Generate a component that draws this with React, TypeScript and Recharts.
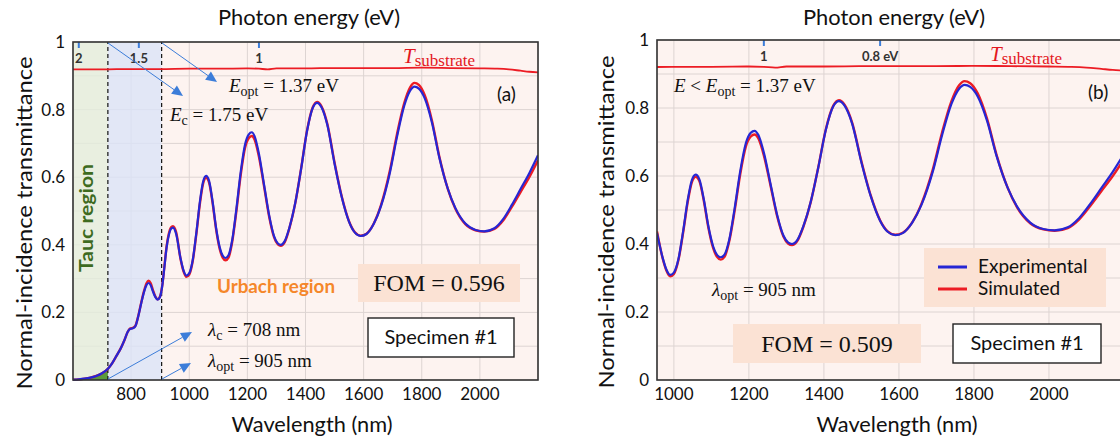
import React from 'react'
import {
  ComposedChart,
  Line,
  Area,
  XAxis,
  YAxis,
  CartesianGrid,
  ReferenceArea,
  ReferenceLine,
} from 'recharts'

// wavelength (nm) and normal-incidence transmittance
const wavelength = [
  600, 620, 640, 660, 680, 700, 720, 735, 750, 765, 778, 788, 796, 806, 815, 825, 835, 845, 853, 860,
  867, 875, 883, 891, 899, 907, 915, 922, 930, 937, 944, 955, 970, 980, 990, 1000, 1012, 1025, 1037, 1048,
  1058, 1068, 1080, 1092, 1105, 1115, 1125, 1135, 1148, 1162, 1177, 1192, 1205, 1215, 1225, 1240, 1258, 1275, 1292, 1305,
  1315, 1328, 1345, 1365, 1385, 1405, 1425, 1440, 1455, 1475, 1500, 1525, 1550, 1570, 1590, 1610, 1635, 1660, 1690, 1715,
  1740, 1760, 1775, 1790, 1810, 1835, 1860, 1890, 1915, 1950, 1985, 2015, 2050, 2080, 2110, 2140, 2170, 2200,
]

const experimental = [
  0.001, 0.002, 0.004, 0.007, 0.012, 0.02, 0.033, 0.05, 0.072, 0.095, 0.12, 0.142, 0.151, 0.153, 0.16, 0.19, 0.228, 0.262, 0.281, 0.287,
  0.281, 0.262, 0.246, 0.238, 0.245, 0.278, 0.338, 0.392, 0.43, 0.447, 0.451, 0.432, 0.36, 0.325, 0.309, 0.316, 0.355, 0.44, 0.53, 0.588,
  0.604, 0.59, 0.53, 0.452, 0.392, 0.368, 0.361, 0.369, 0.415, 0.505, 0.615, 0.697, 0.727, 0.733, 0.721, 0.668, 0.575, 0.487, 0.425, 0.404,
  0.4, 0.41, 0.452, 0.525, 0.625, 0.735, 0.805, 0.82, 0.807, 0.755, 0.64, 0.54, 0.468, 0.436, 0.426, 0.432, 0.462, 0.515, 0.612, 0.72,
  0.812, 0.856, 0.868, 0.862, 0.834, 0.762, 0.66, 0.565, 0.51, 0.463, 0.444, 0.44, 0.449, 0.476, 0.518, 0.565, 0.612, 0.665,
]

const simulated = [
  0.001, 0.002, 0.004, 0.007, 0.012, 0.02, 0.033, 0.05, 0.072, 0.095, 0.12, 0.142, 0.152, 0.154, 0.161, 0.191, 0.23, 0.265, 0.286, 0.294,
  0.287, 0.266, 0.248, 0.239, 0.246, 0.279, 0.34, 0.395, 0.434, 0.451, 0.455, 0.437, 0.358, 0.322, 0.305, 0.312, 0.352, 0.436, 0.524, 0.582,
  0.598, 0.585, 0.526, 0.448, 0.387, 0.362, 0.354, 0.362, 0.41, 0.498, 0.606, 0.687, 0.716, 0.722, 0.711, 0.66, 0.57, 0.483, 0.422, 0.401,
  0.397, 0.407, 0.45, 0.524, 0.626, 0.737, 0.807, 0.823, 0.81, 0.758, 0.643, 0.542, 0.469, 0.437, 0.427, 0.433, 0.463, 0.518, 0.618, 0.728,
  0.82, 0.866, 0.879, 0.873, 0.843, 0.768, 0.663, 0.565, 0.508, 0.461, 0.443, 0.439, 0.447, 0.472, 0.512, 0.556, 0.6, 0.65,
]

const substrateWavelength = [
  600, 700, 800, 900, 1000, 1100, 1200, 1240, 1270, 1300, 1400, 1500, 1600, 1700, 1800, 1900, 2000, 2060, 2100, 2140, 2170, 2200,
]
const substrateT = [
  0.919, 0.919, 0.92, 0.92, 0.921, 0.921, 0.922, 0.921, 0.919, 0.922, 0.922, 0.923, 0.923, 0.923, 0.924, 0.923, 0.922, 0.921, 0.919, 0.915, 0.912, 0.91,
]

const yTicks = [0, 0.1, 0.2, 0.3, 0.4, 0.5, 0.6, 0.7, 0.8, 0.9, 1]
const xTicksA = [800, 1000, 1200, 1400, 1600, 1800, 2000]
const xTicksB = [1000, 1200, 1400, 1600, 1800, 2000]
const energyA = [2, 1.5, 1]
const energyLabelsA = ['2', '1.5', '1']
const energyB = [1, 0.8]
const energyLabelsB = ['1', '0.8 eV']

const lambdaC = 720 // where the boundary is drawn
const lambdaOpt = 905

const rows = wavelength.map((w, i) => ({ w, exp: experimental[i], sim: simulated[i] }))
const substrateRows = substrateWavelength.map((w, i) => ({ w, t: substrateT[i] }))

const SANS = 'Lato, "Open Sans", sans-serif'
const SERIF = '"Liberation Serif", "DejaVu Serif", serif'
const BLUE = '#2626d4'
const RED = '#ec1c24'
const ARROW = '#3c7dd9'

// blue photon-energy tick hanging from the top frame, label below it
function EnergyMark({ viewBox, label }: any) {
  if (!viewBox) return null
  const { x, y } = viewBox
  return (
    <g>
      <line x1={x} x2={x} y1={y} y2={y + 6} stroke={ARROW} strokeWidth={2} />
      <text x={x} y={y + 21} textAnchor="middle" fontSize={13} fontWeight="bold" fill="#333" fontFamily={SANS}>
        {label}
      </text>
    </g>
  )
}

interface PanelProps {
  data: typeof rows
  domain: [number, number]
  ticks: number[]
  energy: number[]
  energyLabels: string[]
  regions: boolean
  width: number
  margin: { top: number; right: number; bottom: number; left: number }
}

function Panel({ data, domain, ticks, energy, energyLabels, regions, width, margin }: PanelProps) {
  const tickStyle = { fontSize: 17, fill: '#111', fontFamily: SANS }
  return (
    <ComposedChart width={width} height={443} data={data} margin={margin}>
      <CartesianGrid fill="#fdf3f0" stroke="#ddd4d2" strokeWidth={1} />
      {regions && (
        <ReferenceArea x1={600} x2={lambdaC} y1={0} y2={1} fill="#e3eedc" fillOpacity={0.8} stroke="none" />
      )}
      {regions && (
        <ReferenceArea x1={lambdaC} x2={lambdaOpt} y1={0} y2={1} fill="#dbe3f8" fillOpacity={0.8} stroke="none" />
      )}
      {regions && <ReferenceLine x={lambdaC} stroke="#111" strokeDasharray="4 3" strokeWidth={1.2} />}
      {regions && <ReferenceLine x={lambdaOpt} stroke="#111" strokeDasharray="4 3" strokeWidth={1.2} />}
      {energy.map((e, i) => (
        <ReferenceLine
          key={e}
          x={1239.84 / e}
          stroke="none"
          label={<EnergyMark label={energyLabels[i]} />}
        />
      ))}
      <XAxis
        type="number"
        dataKey="w"
        domain={domain}
        allowDataOverflow
        ticks={ticks}
        height={30}
        tickSize={0}
        tickMargin={8}
        tickLine={false}
        axisLine={false}
        tick={tickStyle}
      />
      <YAxis
        type="number"
        domain={[0, 1]}
        ticks={yTicks}
        width={40}
        tickSize={0}
        tickMargin={8}
        tickLine={false}
        axisLine={false}
        tick={tickStyle}
        tickFormatter={(v: number, i: number) => (i % 2 === 0 ? String(v) : '')}
      />
      {regions && (
        <Area
          data={data.filter((r) => r.w <= lambdaC)}
          dataKey="exp"
          type="monotone"
          fill="#5b9a3c"
          fillOpacity={1}
          stroke="none"
          isAnimationActive={false}
        />
      )}
      <Line data={substrateRows} dataKey="t" type="monotone" stroke={RED} strokeWidth={1.8} dot={false} isAnimationActive={false} />
      <Line dataKey="sim" type="monotone" stroke={RED} strokeWidth={2.4} dot={false} isAnimationActive={false} />
      <Line dataKey="exp" type="monotone" stroke={BLUE} strokeWidth={2.2} dot={false} isAnimationActive={false} />
    </ComposedChart>
  )
}

function Arrow({ x1, y1, x2, y2 }: { x1: number; y1: number; x2: number; y2: number }) {
  const a = Math.atan2(y2 - y1, x2 - x1)
  const len = 11
  const half = 5
  const bx = x2 - len * Math.cos(a)
  const by = y2 - len * Math.sin(a)
  const p1 = `${bx + half * Math.sin(a)},${by - half * Math.cos(a)}`
  const p2 = `${bx - half * Math.sin(a)},${by + half * Math.cos(a)}`
  return (
    <g>
      <line x1={x1} y1={y1} x2={bx} y2={by} stroke={ARROW} strokeWidth={1} />
      <polygon points={`${x2},${y2} ${p1} ${p2}`} fill={ARROW} />
    </g>
  )
}

function Sub({ main, sub, italic = true, size = 19, subSize = 14 }: any) {
  return (
    <>
      <tspan fontStyle={italic ? 'italic' : 'normal'} fontSize={size}>{main}</tspan>
      <tspan fontSize={subSize} dy={4}>{sub}</tspan>
    </>
  )
}

function Overlay() {
  const txt = { fontFamily: SERIF, fill: '#111' }
  return (
    <svg width={1120} height={443} style={{ position: 'absolute', left: 0, top: 0, pointerEvents: 'none' }}>
      {/* frames */}
      <rect x={73} y={42} width={465} height={338} fill="none" stroke="#333" strokeWidth={1.6} />
      <rect x={657} y={40} width={467} height={340} fill="none" stroke="#333" strokeWidth={1.6} />

      {/* axis titles */}
      <text x={309} y={25} textAnchor="middle" fontSize={21} fontFamily={SANS} fill="#111" textLength={182} lengthAdjust="spacingAndGlyphs">
        Photon energy (eV)
      </text>
      <text x={312} y={432} textAnchor="middle" fontSize={21} fontFamily={SANS} fill="#111" textLength={161} lengthAdjust="spacingAndGlyphs">
        Wavelength (nm)
      </text>
      <text transform="translate(32,223) rotate(-90)" textAnchor="middle" fontSize={21} fontFamily={SANS} fill="#111" textLength={333} lengthAdjust="spacingAndGlyphs">
        Normal-incidence transmittance
      </text>
      <text x={894} y={25} textAnchor="middle" fontSize={21} fontFamily={SANS} fill="#111" textLength={182} lengthAdjust="spacingAndGlyphs">
        Photon energy (eV)
      </text>
      <text x={897} y={432} textAnchor="middle" fontSize={21} fontFamily={SANS} fill="#111" textLength={161} lengthAdjust="spacingAndGlyphs">
        Wavelength (nm)
      </text>
      <text transform="translate(614,222) rotate(-90)" textAnchor="middle" fontSize={21} fontFamily={SANS} fill="#111" textLength={333} lengthAdjust="spacingAndGlyphs">
        Normal-incidence transmittance
      </text>

      {/* panel (a) */}
      <text x={403} y={63} fontFamily={SERIF} fill="#e3171e">
        <tspan fontStyle="italic" fontSize={21}>T</tspan>
        <tspan fontSize={17} dy={3}>substrate</tspan>
      </text>
      <text x={497} y={101} fontSize={19} fontFamily={SANS} fill="#111">(a)</text>
      <text x={229} y={92} {...txt}>
        <Sub main="E" sub="opt" />
        <tspan dy={-4} fontSize={19}> = 1.37 eV</tspan>
      </text>
      <text x={170} y={121} {...txt}>
        <Sub main="E" sub="c" />
        <tspan dy={-4} fontSize={19}> = 1.75 eV</tspan>
      </text>
      <text x={208} y={336} {...txt}>
        <Sub main="λ" sub="c" />
        <tspan dy={-4} fontSize={19}> = 708 nm</tspan>
      </text>
      <text x={208} y={367} {...txt}>
        <Sub main="λ" sub="opt" />
        <tspan dy={-4} fontSize={19}> = 905 nm</tspan>
      </text>
      <Arrow x1={108} y1={43} x2={183} y2={96} />
      <Arrow x1={162} y1={43} x2={217} y2={82} />
      <Arrow x1={108} y1={379} x2={192} y2={332} />
      <Arrow x1={162} y1={379} x2={191} y2={363} />
      <text transform="translate(93,218) rotate(-90)" textAnchor="middle" fontSize={19} fontWeight="bold" fontFamily={SANS} fill="#3e6b1f" textLength={108} lengthAdjust="spacingAndGlyphs">
        Tauc region
      </text>
      <text x={217} y={293} fontSize={19} fontWeight="bold" fontFamily={SANS} fill="#f5872a" textLength={118} lengthAdjust="spacingAndGlyphs">Urbach region</text>
      <rect x={358} y={264} width={162} height={38} fill="#fbe2d4" />
      <text x={439} y={291} textAnchor="middle" fontSize={24} {...txt}>FOM = 0.596</text>
      <rect x={368} y={318} width={146} height={39} fill="#fff" stroke="#222" strokeWidth={1.4} />
      <text x={441} y={344} textAnchor="middle" fontSize={20} fontFamily={SANS} fill="#111">Specimen #1</text>

      {/* panel (b) */}
      <text x={990} y={61} fontFamily={SERIF} fill="#e3171e">
        <tspan fontStyle="italic" fontSize={21}>T</tspan>
        <tspan fontSize={17} dy={3}>substrate</tspan>
      </text>
      <text x={1088} y={99} fontSize={19} fontFamily={SANS} fill="#111">(b)</text>
      <text x={674} y={92} {...txt}>
        <tspan fontStyle="italic" fontSize={19}>E</tspan>
        <tspan fontSize={19}> &lt; </tspan>
        <Sub main="E" sub="opt" />
        <tspan dy={-4} fontSize={19}> = 1.37 eV</tspan>
      </text>
      <text x={712} y={296} {...txt}>
        <Sub main="λ" sub="opt" />
        <tspan dy={-4} fontSize={19}> = 905 nm</tspan>
      </text>
      <rect x={924} y={248} width={182} height={59} fill="#fbe2d4" />
      <line x1={938} x2={967} y1={267} y2={267} stroke={BLUE} strokeWidth={3} />
      <line x1={938} x2={967} y1={289} y2={289} stroke={RED} strokeWidth={3} />
      <text x={978} y={273} fontSize={19} fontFamily={SANS} fill="#111">Experimental</text>
      <text x={978} y={295} fontSize={19} fontFamily={SANS} fill="#111">Simulated</text>
      <rect x={733} y={324} width={188} height={39} fill="#fbe2d4" />
      <text x={827} y={352} textAnchor="middle" fontSize={24} {...txt}>FOM = 0.509</text>
      <rect x={953} y={324} width={148} height={39} fill="#fff" stroke="#222" strokeWidth={1.4} />
      <text x={1027} y={350} textAnchor="middle" fontSize={20} fontFamily={SANS} fill="#111">Specimen #1</text>
    </svg>
  )
}

export default function App() {
  const rowsB = rows.filter((r) => r.w >= 955)
  return (
    <div style={{ position: 'fixed', left: 0, top: 0, width: 1120, height: 443, overflow: 'hidden', background: '#fff' }}>
      <div style={{ position: 'absolute', left: 0, top: 0 }}>
        <Panel
          data={rows}
          domain={[600, 2200]}
          ticks={xTicksA}
          energy={energyA}
          energyLabels={energyLabelsA}
          regions
          width={560}
          margin={{ top: 42, right: 22, bottom: 33, left: 33 }}
        />
      </div>
      <div style={{ position: 'absolute', left: 560, top: 0 }}>
        <Panel
          data={rowsB}
          domain={[955, 2200]}
          ticks={xTicksB}
          energy={energyB}
          energyLabels={energyLabelsB}
          regions={false}
          width={580}
          margin={{ top: 40, right: 16, bottom: 33, left: 57 }}
        />
      </div>
      <Overlay />
    </div>
  )
}
